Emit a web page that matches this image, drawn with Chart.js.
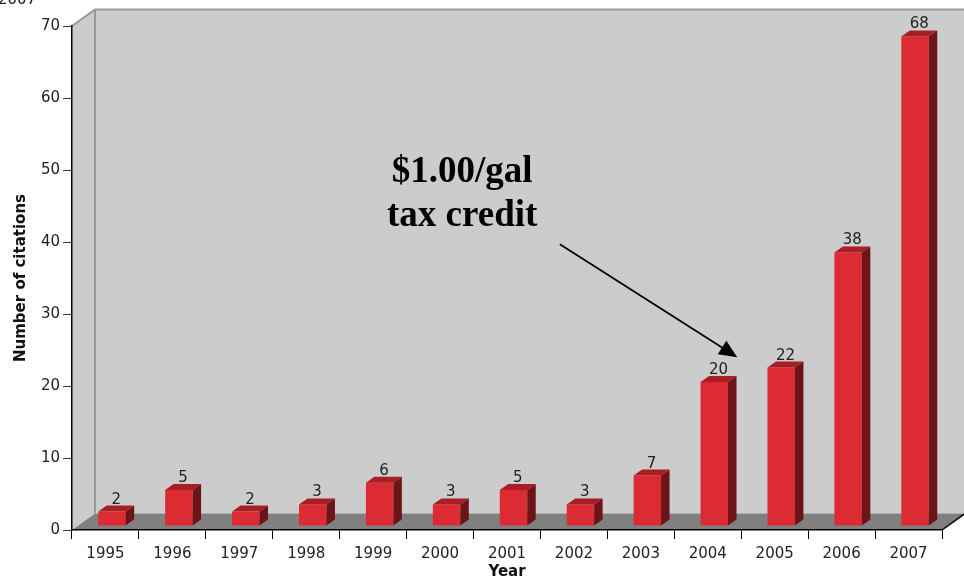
<!DOCTYPE html>
<html>
<head>
<meta charset="utf-8">
<script src="https://cdn.jsdelivr.net/npm/chart.js@4"></script>
<style>
  html, body { margin: 0; padding: 0; background: #fff; }
  canvas { display: block; }
</style>
</head>
<body>
<canvas id="citationChart" width="964" height="581"></canvas>
<script>
// citations per year
const years = ["1995", "1996", "1997", "1998", "1999", "2000", "2001", "2002", "2003", "2004", "2005", "2006", "2007"];
const citations = [2, 5, 2, 3, 6, 3, 5, 3, 7, 20, 22, 38, 68];
const yMax = 70;
const yStep = 10;

// callout, placed in data units (category index, value)
const noteLines = ["$1.00/gal", "tax credit"];
const noteText = { x: 5.33, y: [48.3, 42.2] };
const noteArrow = { from: [6.79, 39.7], to: [9.44, 24.0] };

const TICK_FONT = { family: "DejaVu Sans", size: 15 };
const TITLE_FONT = { family: "DejaVu Sans", size: 15, weight: "bold" };

// fake 3D geometry
const WALL_DX = 23, WALL_DY = 16.5;   // depth of the box
const BAR_DX = 6.5, BAR_DY = 4;      // bars sit a little inside the box
const SIDE_DX = 8.5, SIDE_DY = 6;    // depth of each bar
const FRONT = "#dc2b32", TOP = "#a91e25", SIDE = "#6d1418";

const box3d = {
    id: "box3d",
    beforeDraw(chart) {
        const { ctx, chartArea: { left, top, right, bottom } } = chart;
        ctx.save();
        // left wall
        ctx.fillStyle = "#cccccc";
        ctx.beginPath();
        ctx.moveTo(left, top);
        ctx.lineTo(left + WALL_DX, top - WALL_DY);
        ctx.lineTo(left + WALL_DX, bottom - WALL_DY);
        ctx.lineTo(left, bottom);
        ctx.closePath();
        ctx.fill();
        // back wall
        ctx.fillRect(left + WALL_DX, top - WALL_DY, right - left + 2, bottom - top);
        // floor
        ctx.fillStyle = "#808080";
        ctx.beginPath();
        ctx.moveTo(left, bottom);
        ctx.lineTo(left + WALL_DX, bottom - WALL_DY);
        ctx.lineTo(right + WALL_DX, bottom - WALL_DY);
        ctx.lineTo(right, bottom);
        ctx.closePath();
        ctx.fill();
        // wall edges
        ctx.strokeStyle = "#999999";
        ctx.lineWidth = 2;
        ctx.beginPath();
        ctx.moveTo(left, top);
        ctx.lineTo(left + WALL_DX, top - WALL_DY);
        ctx.lineTo(right + WALL_DX + 2, top - WALL_DY);
        ctx.moveTo(left + WALL_DX, top - WALL_DY);
        ctx.lineTo(left + WALL_DX, bottom - WALL_DY);
        ctx.stroke();
        // floor right edge
        ctx.strokeStyle = "#000";
        ctx.lineWidth = 1.5;
        ctx.beginPath();
        ctx.moveTo(right, bottom);
        ctx.lineTo(right + WALL_DX, bottom - WALL_DY);
        ctx.stroke();
        ctx.restore();
    },
    beforeDatasetsDraw(chart) {
        chart.ctx.save();
        chart.ctx.translate(BAR_DX, -BAR_DY);
    },
    afterDatasetsDraw(chart) {
        const ctx = chart.ctx;
        const meta = chart.getDatasetMeta(0);
        meta.data.forEach((bar, i) => {
            const { x, y, base, width } = bar.getProps(["x", "y", "base", "width"], true);
            const l = x - width / 2, r = x + width / 2;
            ctx.fillStyle = TOP;
            ctx.beginPath();
            ctx.moveTo(l, y);
            ctx.lineTo(l + SIDE_DX, y - SIDE_DY);
            ctx.lineTo(r + SIDE_DX, y - SIDE_DY);
            ctx.lineTo(r, y);
            ctx.closePath();
            ctx.fill();
            ctx.fillStyle = SIDE;
            ctx.beginPath();
            ctx.moveTo(r, y);
            ctx.lineTo(r + SIDE_DX, y - SIDE_DY);
            ctx.lineTo(r + SIDE_DX, base - SIDE_DY);
            ctx.lineTo(r, base);
            ctx.closePath();
            ctx.fill();

            ctx.fillStyle = "#222";
            ctx.font = `${TICK_FONT.size}px "${TICK_FONT.family}"`;
            ctx.textAlign = "center";
            ctx.textBaseline = "alphabetic";
            ctx.fillText(String(citations[i]), x + SIDE_DX / 2, y - SIDE_DY - 2);
        });
        ctx.restore();

        const xs = chart.scales.x, ys = chart.scales.y;
        const px = v => xs.left + (v + 0.5) * (xs.right - xs.left) / years.length;

        // callout text
        ctx.save();
        ctx.fillStyle = "#000";
        ctx.font = 'bold 37px "Liberation Serif"';
        ctx.textAlign = "center";
        ctx.textBaseline = "alphabetic";
        noteLines.forEach((t, k) => ctx.fillText(t, px(noteText.x), ys.getPixelForValue(noteText.y[k])));

        // callout arrow
        const x0 = px(noteArrow.from[0]), y0 = ys.getPixelForValue(noteArrow.from[1]);
        const x1 = px(noteArrow.to[0]), y1 = ys.getPixelForValue(noteArrow.to[1]);
        const ang = Math.atan2(y1 - y0, x1 - x0);
        const headLen = 18, headW = 8;
        const bx = x1 - headLen * Math.cos(ang), by = y1 - headLen * Math.sin(ang);
        ctx.strokeStyle = "#000";
        ctx.lineWidth = 1.7;
        ctx.beginPath();
        ctx.moveTo(x0, y0);
        ctx.lineTo(bx, by);
        ctx.stroke();
        ctx.beginPath();
        ctx.moveTo(x1, y1);
        ctx.lineTo(bx + headW * Math.sin(ang), by - headW * Math.cos(ang));
        ctx.lineTo(bx - headW * Math.sin(ang), by + headW * Math.cos(ang));
        ctx.closePath();
        ctx.fill();

        // year caption left over at the top edge
        ctx.font = `${TICK_FONT.size}px "${TICK_FONT.family}"`;
        ctx.fillStyle = "#222";
        ctx.textAlign = "left";
        ctx.fillText("2007", -2, 4);
        ctx.restore();
    }
};

new Chart(document.getElementById("citationChart"), {
    type: "bar",
    data: {
        labels: years,
        datasets: [{
            data: citations,
            backgroundColor: FRONT,
            borderWidth: 0,
            barPercentage: 0.41,
            categoryPercentage: 1,
            clip: false
        }]
    },
    options: {
        responsive: false,
        animation: false,
        devicePixelRatio: 1,
        layout: { padding: { top: 26, right: 22, left: 0, bottom: 0 } },
        plugins: { legend: { display: false }, tooltip: { enabled: false } },
        scales: {
            x: {
                grid: { offset: true, drawOnChartArea: false, drawTicks: true, tickLength: 9, tickColor: "#000", lineWidth: 1 },
                border: { display: true, color: "#000", width: 1.5 },
                ticks: { font: TICK_FONT, color: "#222", padding: 6, maxRotation: 0 },
                title: { display: true, text: "Year", font: TITLE_FONT, color: "#111", padding: { top: 0, bottom: 0 } },
                afterFit(scale) { scale.height = 51; }
            },
            y: {
                min: 0,
                max: yMax,
                ticks: { stepSize: yStep, font: TICK_FONT, color: "#222", padding: 3 },
                grid: { drawOnChartArea: false, drawTicks: true, tickLength: 9, tickColor: "#333" },
                border: { display: true, color: "#000", width: 1.5 },
                title: { display: true, text: "Number of citations", font: TITLE_FONT, color: "#111", padding: { top: 12, bottom: 0 } },
                afterFit(scale) { scale.width = 72; }
            }
        }
    },
    plugins: [box3d]
});
</script>
</body>
</html>
